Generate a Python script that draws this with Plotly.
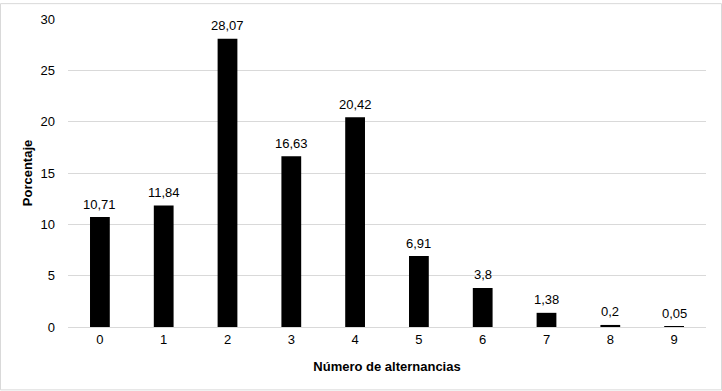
import plotly.graph_objects as go

categories = ["0", "1", "2", "3", "4", "5", "6", "7", "8", "9"]
values = [10.71, 11.84, 28.07, 16.63, 20.42, 6.91, 3.8, 1.38, 0.2, 0.05]
y_ticks = [0, 5, 10, 15, 20, 25, 30]

L, R, T, B = 68, 16, 16, 64
W, H = 722, 391
pw, ph = W - L - R, H - T - B
FONT = "Liberation Sans, Arial"

fig = go.Figure(go.Bar(
    x=categories, y=values,
    marker=dict(color="black", line=dict(width=0)),
    hoverinfo="x+y",
))

for c, v in zip(categories, values):
    fig.add_annotation(
        x=c, y=v, text=str(v).replace(".", ","), showarrow=False,
        yanchor="middle", yshift=13,
        font=dict(family=FONT, size=13, color="#000"),
    )

fig.update_layout(
    width=W, height=H,
    margin=dict(l=L, r=R, t=T, b=B),
    plot_bgcolor="white", paper_bgcolor="white",
    bargap=0.69,
    showlegend=False,
    font=dict(family=FONT, size=13, color="#000"),
    xaxis=dict(
        title=dict(text="<b>Número de alternancias</b>", font=dict(size=13), standoff=16),
        showgrid=False, showline=True, linecolor="#d9d9d9", linewidth=1,
        ticks="", tickfont=dict(size=13),
    ),
    yaxis=dict(
        title=dict(text="<b>Porcentaje</b>", font=dict(size=13), standoff=4),
        range=[0, 30], tickvals=y_ticks,
        showgrid=True, gridcolor="#d9d9d9", gridwidth=1,
        zeroline=False, showline=False, ticks="", tickfont=dict(size=13),
        ticklabelstandoff=12,
    ),
    shapes=[dict(
        type="rect", xref="paper", yref="paper",
        x0=-(L - 0.5) / pw, x1=1 + (R - 0.5) / pw,
        y0=-(B - 0.5) / ph, y1=1 + (T - 0.5) / ph,
        line=dict(color="#d9d9d9", width=1), layer="below",
    )],
)

fig.write_html(
    "out.html",
    config={"displayModeBar": False},
    post_script="document.body.style.margin='0';document.body.style.overflow='hidden';",
)
